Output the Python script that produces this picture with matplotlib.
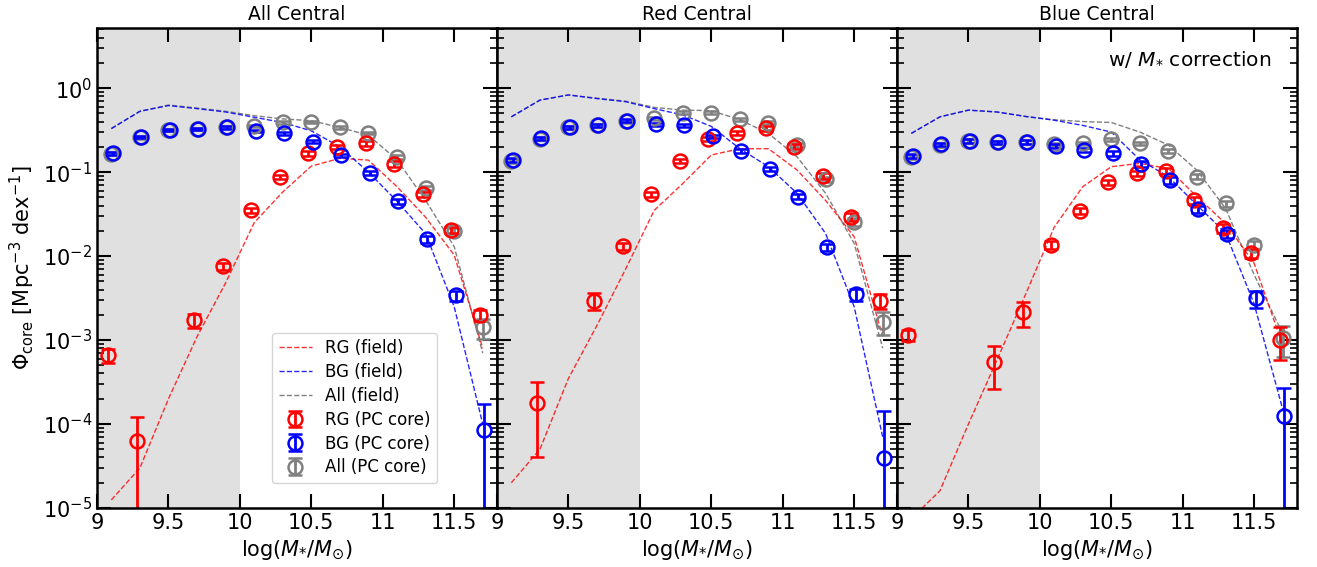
import matplotlib
matplotlib.use("Agg")
import matplotlib.pyplot as plt
import numpy as np

nan = np.nan

# stellar mass bin centres, log(M*/Msun)
mass_bins = [9.1, 9.3, 9.5, 9.7, 9.9, 10.1, 10.3, 10.5, 10.7, 10.9, 11.1, 11.3, 11.5, 11.7]

panel_titles = ["All Central", "Red Central", "Blue Central"]
xtick_values = [9.0, 9.5, 10.0, 10.5, 11.0, 11.5]
xtick_labels = ["9", "9.5", "10", "10.5", "11", "11.5"]

# --- All Central ---
all_rg = [6.6e-4, 6.2e-5, nan, 1.73e-3, 7.6e-3, 0.035, 0.088, 0.167, 0.20, 0.22, 0.124, 0.0547, 0.0204, 2.0e-3]
all_rg_err = [1.3e-4, 5.8e-5, nan, 3.3e-4, 7e-4, 2.5e-3, 5e-3, 0.01, 0.012, 0.014, 0.01, 4e-3, 1.8e-3, 3e-4]
all_bg = [0.167, 0.263, 0.316, 0.325, 0.34, 0.31, 0.289, 0.23, 0.159, 0.098, 0.045, 0.0159, 3.4e-3, 8.5e-5]
all_bg_err = [0.007, 0.009, 0.01, 0.01, 0.01, 0.01, 0.01, 0.009, 0.007, 0.005, 0.003, 1.5e-3, 4.5e-4, 8.8e-5]
all_ag = [0.165, 0.26, 0.32, 0.325, 0.345, 0.353, 0.391, 0.397, 0.34, 0.294, 0.152, 0.064, 0.020, 1.42e-3]
all_ag_err = [0.007, 0.009, 0.01, 0.01, 0.01, 0.01, 0.012, 0.012, 0.01, 0.01, 0.007, 3.5e-3, 1.6e-3, 3.8e-4]
all_rg_field = [1.25e-5, 3e-5, 2e-4, 1.1e-3, 4.8e-3, 0.025, 0.058, 0.118, 0.146, 0.139, 0.067, 0.029, 0.0103, 8e-4]
all_bg_field = [0.33, 0.53, 0.62, 0.57, 0.52, 0.45, 0.39, 0.31, 0.20, 0.10, 0.045, 0.0185, 2.5e-3, 1.0e-4]
all_ag_field = [0.33, 0.53, 0.63, 0.58, 0.53, 0.47, 0.43, 0.41, 0.34, 0.275, 0.14, 0.046, 0.013, 7e-4]

# --- Red Central ---
rc_rg = [nan, 1.8e-4, nan, 2.94e-3, 0.0131, 0.0547, 0.136, 0.247, 0.289, 0.331, 0.20, 0.0896, 0.0294, 2.94e-3]
rc_rg_err = [nan, 1.4e-4, nan, 6.5e-4, 1.3e-3, 4e-3, 8e-3, 0.015, 0.016, 0.02, 0.014, 7e-3, 3e-3, 6e-4]
rc_bg = [0.139, 0.252, 0.34, 0.363, 0.409, 0.373, 0.36, 0.268, 0.178, 0.108, 0.051, 0.0127, 3.5e-3, 3.9e-5]
rc_bg_err = [0.008, 0.011, 0.014, 0.014, 0.016, 0.015, 0.015, 0.012, 0.009, 0.006, 3.5e-3, 1.3e-3, 6e-4, 1.04e-4]
rc_ag = [0.137, 0.25, 0.34, 0.36, 0.405, 0.435, 0.508, 0.508, 0.428, 0.386, 0.21, 0.0826, 0.0256, 1.65e-3]
rc_ag_err = [0.008, 0.011, 0.014, 0.014, 0.016, 0.017, 0.02, 0.02, 0.018, 0.017, 0.012, 6e-3, 2.5e-3, 5.1e-4]
rc_rg_field = [2e-5, 5e-5, 3.5e-4, 1.5e-3, 7e-3, 0.035, 0.073, 0.16, 0.19, 0.19, 0.106, 0.046, 0.017, 1.1e-3]
rc_bg_field = [0.455, 0.72, 0.83, 0.75, 0.69, 0.57, 0.48, 0.35, 0.19, 0.116, 0.056, 0.0186, 2.5e-3, 7e-5]
rc_ag_field = [0.455, 0.72, 0.83, 0.76, 0.70, 0.59, 0.547, 0.54, 0.42, 0.289, 0.152, 0.056, 0.0142, 8e-4]

# --- Blue Central ---
bc_rg = [1.15e-3, nan, nan, 5.5e-4, 2.14e-3, 0.0135, 0.0347, 0.0753, 0.0964, 0.103, 0.0464, 0.0214, 0.0108, 1.0e-3]
bc_rg_err = [1.8e-4, nan, nan, 2.9e-4, 7e-4, 1.5e-3, 2.8e-3, 5e-3, 7e-3, 8e-3, 4.5e-3, 2.5e-3, 1.4e-3, 4.2e-4]
bc_bg = [0.155, 0.215, 0.236, 0.226, 0.23, 0.204, 0.183, 0.167, 0.124, 0.080, 0.0363, 0.0183, 3.13e-3, 1.25e-4]
bc_bg_err = [0.008, 0.01, 0.011, 0.011, 0.011, 0.01, 0.01, 0.012, 0.01, 0.007, 3.5e-3, 2e-3, 7e-4, 1.41e-4]
bc_ag = [0.152, 0.21, 0.236, 0.226, 0.23, 0.215, 0.22, 0.245, 0.22, 0.178, 0.088, 0.0423, 0.0135, 1.05e-3]
bc_ag_err = [0.008, 0.01, 0.011, 0.011, 0.011, 0.01, 0.011, 0.012, 0.011, 0.01, 6e-3, 3.5e-3, 1.5e-3, 4.2e-4]
bc_rg_field = [7.5e-6, 1.6e-5, 1e-4, 5.8e-4, 3.5e-3, 0.022, 0.067, 0.116, 0.127, 0.11, 0.0508, 0.0245, 0.0082, 8.7e-4]
bc_bg_field = [0.289, 0.455, 0.547, 0.52, 0.46, 0.415, 0.36, 0.30, 0.14, 0.088, 0.0405, 0.0188, 2.7e-3, 1.5e-4]
bc_ag_field = [0.289, 0.455, 0.547, 0.52, 0.46, 0.42, 0.40, 0.39, 0.30, 0.21, 0.105, 0.037, 6e-3, 1.2e-3]


def draw_panel(ax, rg, rg_err, bg, bg_err, ag, ag_err, rg_f, bg_f, ag_f):
    x = np.array(mass_bins)
    ax.axvspan(9.0, 10.0, color="#e0e0e0", lw=0, zorder=0)

    # gray first so the blue line sits on top where they coincide
    l3, = ax.plot(x, ag_f, "--", color="gray", lw=1, label="All (field)")
    l1, = ax.plot(x, rg_f, "--", color="red", lw=1, alpha=0.8, label="RG (field)")
    l2, = ax.plot(x, bg_f, "--", color="blue", lw=1, alpha=0.85, label="BG (field)")

    style = dict(fmt="o", mfc="none", ms=10, mew=1.8, elinewidth=2, capsize=5, capthick=2)
    e3 = ax.errorbar(x, ag, yerr=ag_err, color="gray", label="All (PC core)", **style)
    e1 = ax.errorbar(x - 0.02, rg, yerr=rg_err, color="red", label="RG (PC core)", **style)
    e2 = ax.errorbar(x + 0.01, bg, yerr=bg_err, color="blue", label="BG (PC core)", **style)

    ax.set_yscale("log")
    ax.set_xlim(9.0, 11.8)
    ax.set_ylim(1e-5, 5.2)
    ax.set_xticks(xtick_values)
    ax.set_xticklabels(xtick_labels)
    ax.tick_params(which="both", direction="in", top=True, right=True, labelsize=15)
    ax.tick_params(which="major", length=10, width=1.5)
    ax.tick_params(which="minor", length=5, width=1.2)
    for sp in ax.spines.values():
        sp.set_linewidth(1.8)
    ax.set_xlabel(r"log($M_{*}/M_{\odot}$)", fontsize=15)
    return [l1, l2, l3, e1, e2, e3]


fig, axes = plt.subplots(1, 3, figsize=(13.17, 5.67), dpi=100, sharey=True)
fig.subplots_adjust(left=0.0737, right=0.9848, bottom=0.104, top=0.9506, wspace=0)

panels = [
    (all_rg, all_rg_err, all_bg, all_bg_err, all_ag, all_ag_err, all_rg_field, all_bg_field, all_ag_field),
    (rc_rg, rc_rg_err, rc_bg, rc_bg_err, rc_ag, rc_ag_err, rc_rg_field, rc_bg_field, rc_ag_field),
    (bc_rg, bc_rg_err, bc_bg, bc_bg_err, bc_ag, bc_ag_err, bc_rg_field, bc_bg_field, bc_ag_field),
]

for i, (ax, data) in enumerate(zip(axes, panels)):
    handles = draw_panel(ax, *data)
    ax.set_title(panel_titles[i], fontsize=13.5, pad=6)
    if i == 0:
        ax.set_ylabel(r"$\Phi_{\rm core}$ [Mpc$^{-3}$ dex$^{-1}$]", fontsize=15)
        ax.legend(handles=handles, loc="lower left", bbox_to_anchor=(0.437, 0.052),
                  borderaxespad=0, fontsize=12, handlelength=2, labelspacing=0.35)
    else:
        ax.tick_params(labelleft=False)

axes[2].text(0.935, 0.935, r"w/ $M_{*}$ correction", transform=axes[2].transAxes,
             ha="right", va="center", fontsize=14.5)

fig.savefig("out.png", dpi=100)
plt.close(fig)
